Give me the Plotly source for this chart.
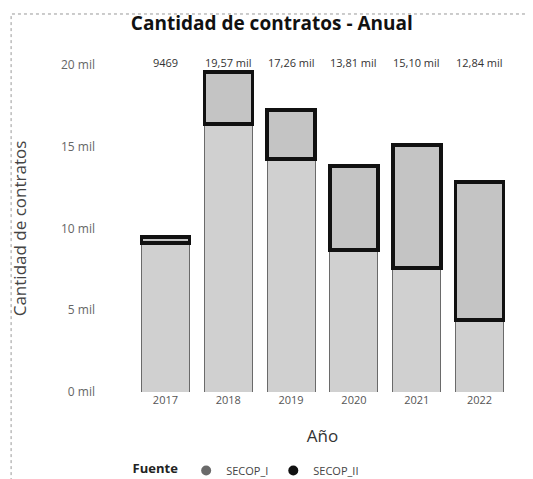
import plotly.graph_objects as go

years = ["2017", "2018", "2019", "2020", "2021", "2022"]
secop_i = [9120, 16390, 14250, 8680, 7580, 4390]
secop_ii = [349, 3180, 3010, 5130, 7520, 8450]
tick_vals = [0, 5000, 10000, 15000, 20000]
tick_text = ["0 mil", "5 mil", "10 mil", "15 mil", "20 mil"]


def fmt(v):
    if v < 10000:
        return f"{v}"
    return f"{v/1000:.2f} mil".replace(".", ",")


totals = [a + b for a, b in zip(secop_i, secop_ii)]

fig = go.Figure()
fig.add_trace(go.Bar(
    x=years, y=secop_i, name="SECOP_I", showlegend=False,
    marker=dict(color="#d0d0d0", line=dict(color="#6a6a6a", width=1)),
))
fig.add_trace(go.Bar(
    x=years, y=secop_ii, name="SECOP_II", showlegend=False,
    marker=dict(color="#c4c4c4", line=dict(color="#111111", width=3.5)),
))
# legend entries with circle markers
fig.add_trace(go.Scatter(x=[years[0]], y=[None], mode="markers", name="SECOP_I",
                         marker=dict(symbol="circle", size=10, color="#6a6a6a")))
fig.add_trace(go.Scatter(x=[years[0]], y=[None], mode="markers", name="SECOP_II",
                         marker=dict(symbol="circle", size=10, color="#111111")))

# total labels on one line above the plot (category index positions)
for i, t in enumerate(totals):
    fig.add_annotation(x=i, y=1, xref="x", yref="paper", yshift=12,
                       text=fmt(t), showarrow=False,
                       font=dict(size=11, color="#333333", family="Open Sans"))

fig.update_layout(
    width=533, height=479,
    margin=dict(l=126, r=30, t=57, b=95, autoexpand=False),
    barmode="stack", bargap=0.236,
    paper_bgcolor="white", plot_bgcolor="white",
    font=dict(family="Open Sans", color="#444444"),
    title=dict(text="<b>Cantidad de contratos - Anual</b>", x=0.495, xanchor="center",
               y=0.968, yanchor="middle",
               font=dict(size=19, color="#111111", family="Open Sans")),
    xaxis=dict(type="category", categoryorder="array", categoryarray=years,
               range=[-0.5, len(years) - 0.5], automargin=False,
               showgrid=False, showline=False, ticks="", zeroline=False,
               tickfont=dict(size=11, color="#555555"),
               title=dict(text="Año", font=dict(size=17, color="#333333"), standoff=24)),
    yaxis=dict(range=[0, 20000], tickvals=tick_vals, ticktext=tick_text,
               automargin=False,
               showgrid=False, zeroline=False, showline=False, ticks="",
               tickfont=dict(size=12, color="#666666"),
               ticklabelstandoff=38,
               title=dict(text="Cantidad de contratos", font=dict(size=17, color="#444444"),
                          standoff=30)),
    legend=dict(orientation="h", x=0.30, xanchor="center", y=-0.24, yanchor="middle",
                traceorder="normal",
                title=dict(text="<b>Fuente</b>", font=dict(size=13, color="#222222")),
                font=dict(size=11, color="#444444"), itemwidth=30),
)

fig.add_shape(type="rect", xref="paper", yref="paper", x0=-0.326, x1=1.053, y0=-0.3, y1=1.156,
              line=dict(color="#999999", width=1, dash="dot"))

fig.write_html("out.html")
